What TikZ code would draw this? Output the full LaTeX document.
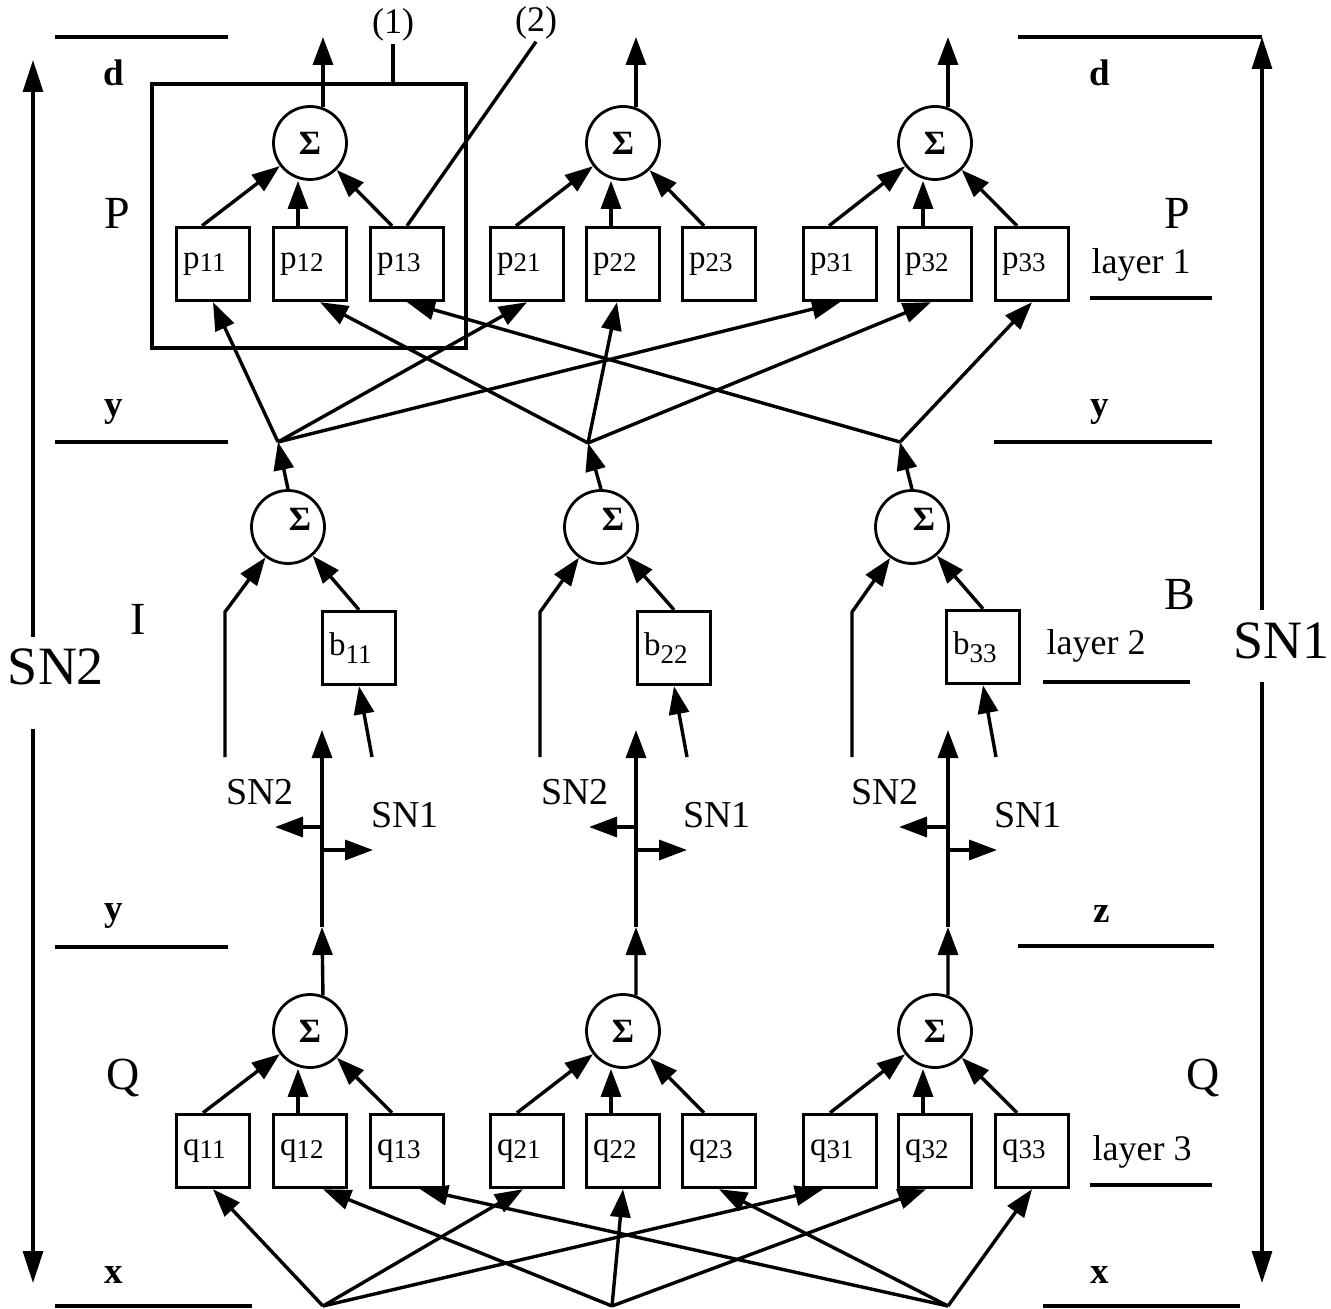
\documentclass[tikz,border=0pt]{standalone}
\usepackage{fontspec}
\setmainfont{Liberation Serif}
\usetikzlibrary{arrows.meta}

\newcommand{\pqidx}[2]{#1\lower1.5pt\hbox{\fontsize{13.5}{13.5}\selectfont #2}}
\newcommand{\bidx}[2]{#1\lower4pt\hbox{\fontsize{13.5}{13.5}\selectfont #2}}

\begin{document}
\begin{tikzpicture}[x=0.5pt,y=-0.5pt,
    conn/.style={line width=1.7pt},
    arr/.style={conn,-{Triangle[length=14pt,width=10pt]}},
    bigarr/.style={line width=1.6pt,-{Triangle[length=16pt,width=10pt]}},
    rule/.style={line width=1.8pt},
    cell/.style={draw,line width=1.7pt,minimum width=36.5pt,minimum height=36.5pt,
      inner sep=0pt,text width=30pt,align=left,font=\fontsize{16.5}{16.5}\selectfont},
    sumnode/.style={draw,circle,line width=1.4pt,minimum size=36.5pt,inner sep=0pt,
      font=\bfseries\fontsize{17}{17}\selectfont},
    sumsign/.style={font=\bfseries\fontsize{17}{17}\selectfont,inner sep=0pt},
    lettr/.style={font=\bfseries\fontsize{18.5}{18.5}\selectfont},
    layr/.style={font=\fontsize{18}{18}\selectfont},
    bigl/.style={font=\fontsize{23}{23}\selectfont},
    snl/.style={font=\fontsize{19}{19}\selectfont},
    sidel/.style={font=\fontsize{27}{27}\selectfont},
    tag/.style={font=\fontsize{18}{18}\selectfont,inner sep=1pt}]
    \useasboundingbox (0,0) rectangle (1331,1309);

    % side scales SN2 / SN1
    \coordinate (la) at (33,60);
    \coordinate (lb) at (33,637);
    \coordinate (lc) at (33,729);
    \coordinate (ld) at (33,1283);
    \draw[bigarr] (lb) -- (la);
    \draw[bigarr] (lc) -- (ld);
    \node[sidel] (sn2) at (56,667) {SN2};
    \coordinate (ra) at (1262,37);
    \coordinate (rb) at (1262,610);
    \coordinate (rc) at (1262,682);
    \coordinate (rd) at (1262,1283);
    \draw[bigarr] (rb) -- (ra);
    \draw[bigarr] (rc) -- (rd);
    \node[sidel] (sn1) at (1281,641) {SN1};

    % level rules
    \draw[rule] (55,37) -- (228,37);
    \draw[rule] (1018,37) -- (ra);
    \draw[rule] (55,442) -- (228,442);
    \draw[rule] (994,442) -- (1212,442);
    \draw[rule] (1090,298) -- (1212,298);
    \draw[rule] (1043,682) -- (1190,682);
    \draw[rule] (55,947) -- (228,947);
    \draw[rule] (1018,946) -- (1214,946);
    \draw[rule] (1090,1185) -- (1212,1185);
    \draw[rule] (55,1306) -- (252,1306);
    \draw[rule] (1043,1306) -- (1240,1306);

    % level letters
    \node[lettr] (dl) at (114,73) {d};
    \node[lettr] (dr) at (1100,73) {d};
    \node[bigl] (pl) at (117,213) {P};
    \node[bigl] (pr) at (1177,213) {P};
    \node[layr] (lay1) at (1141,265) {layer 1};
    \node[lettr] (yl) at (114,412) {y};
    \node[lettr] (yr) at (1100,412) {y};
    \node[bigl] (il) at (138,619) {I};
    \node[bigl] (br) at (1180,595) {B};
    \node[layr] (lay2) at (1096,646) {layer 2};
    \node[lettr] (yl2) at (114,916) {y};
    \node[lettr] (zr) at (1102,914) {z};
    \node[bigl] (ql) at (123,1078) {Q};
    \node[bigl] (qr) at (1203,1078) {Q};
    \node[layr] (lay3) at (1142,1152) {layer 3};
    \node[lettr] (xl) at (114,1275) {x};
    \node[lettr] (xr) at (1100,1275) {x};

    % layer 1
    \node[draw,line width=1.7pt,minimum width=157pt,minimum height=132pt] (grp) at (309,216) {};
    \node[tag] (one) at (393,25) {(1)};
    \node[tag] (two) at (536,23) {(2)};
    \node[sumnode] (t1) at (310,143) {Σ};
    \node[sumnode] (t2) at (623,143) {Σ};
    \node[sumnode] (t3) at (935,143) {Σ};
    \node[cell] (p11) at (213,264) {\pqidx{p}{11}};
    \node[cell] (p12) at (310,264) {\pqidx{p}{12}};
    \node[cell] (p13) at (407,264) {\pqidx{p}{13}};
    \node[cell] (p21) at (527,264) {\pqidx{p}{21}};
    \node[cell] (p22) at (623,264) {\pqidx{p}{22}};
    \node[cell] (p23) at (719,264) {\pqidx{p}{23}};
    \node[cell] (p31) at (840,264) {\pqidx{p}{31}};
    \node[cell] (p32) at (935,264) {\pqidx{p}{32}};
    \node[cell] (p33) at (1032,264) {\pqidx{p}{33}};
    \draw[conn] (grp.north -| one.south) -- (one.south);
    \draw[conn] (p13.north) -- (two.south);
    \draw[arr] (t1.70) -- (t1.70 |- ra);
    \draw[arr] (t2.70) -- (t2.70 |- ra);
    \draw[arr] (t3.70) -- (t3.70 |- ra);
    \draw[arr] ([xshift=-5.5pt]p11.north) -- (t1);
    \draw[arr] ([xshift=-6pt]p12.north) -- ([xshift=-6pt]t1.south);
    \draw[arr] ([xshift=-7.5pt]p13.north) -- (t1);
    \draw[arr] ([xshift=-5.5pt]p21.north) -- (t2);
    \draw[arr] ([xshift=-6pt]p22.north) -- ([xshift=-6pt]t2.south);
    \draw[arr] ([xshift=-7.5pt]p23.north) -- (t2);
    \draw[arr] ([xshift=-5.5pt]p31.north) -- (t3);
    \draw[arr] ([xshift=-6pt]p32.north) -- ([xshift=-6pt]t3.south);
    \draw[arr] ([xshift=-7.5pt]p33.north) -- (t3);

    % fan out to layer 1
    \coordinate (j1) at (278,442);
    \coordinate (j2) at (588,443);
    \coordinate (j3) at (900,442);
    \draw[arr] (j1) -- (p11.south);
    \draw[arr] (j1) -- (p21.south);
    \draw[arr] (j1) -- (p31.south);
    \draw[arr] (j2) -- ([xshift=5pt]p12.south);
    \draw[arr] (j2) -- ([xshift=-3pt]p22.south);
    \draw[arr] (j2) -- ([xshift=-2pt]p32.south);
    \draw[arr] (j3) -- (p13.south);
    \draw[arr] (j3) -- (p33.south);

    % layer 2
    \node[sumnode] (c1) at (288,527) {};
    \node[sumnode] (c2) at (601,527) {};
    \node[sumnode] (c3) at (912,527) {};
    \node[sumsign] (c1s) at (300,519) {Σ};
    \node[sumsign] (c2s) at (613,519) {Σ};
    \node[sumsign] (c3s) at (924,519) {Σ};
    \node[cell] (b1) at (359,648) {\bidx{b}{11}};
    \node[cell] (b2) at (674,648) {\bidx{b}{22}};
    \node[cell] (b3) at (983,647) {\bidx{b}{33}};
    \draw[arr] (c1.north) -- (j1);
    \draw[arr] (c2.north) -- (j2);
    \draw[arr] (c3.north) -- (j3);
    \draw[arr] (b1.north) -- (c1);
    \draw[arr] (b2.north) -- (c2);
    \draw[arr] (b3.north) -- (c3);
    \coordinate (k1) at (225,757);
    \coordinate (e1) at (225,612);
    \coordinate (k2) at (540,757);
    \coordinate (e2) at (540,612);
    \coordinate (k3) at (852,757);
    \coordinate (e3) at (852,612);
    \draw[arr] (k1) -- (e1) -- (c1);
    \draw[arr] (k2) -- (e2) -- (c2);
    \draw[arr] (k3) -- (e3) -- (c3);
    \coordinate (i1) at (372,757);
    \coordinate (i2) at (687,757);
    \coordinate (i3) at (996,757);
    \draw[arr] (i1) -- (b1.south);
    \draw[arr] (i2) -- (b2.south);
    \draw[arr] (i3) -- (b3.south);

    % switches SN2 / SN1
    \coordinate (m1) at (322,927);
    \coordinate (u1) at (322,730);
    \coordinate (w1) at (322,827);
    \coordinate (wl1) at (275,827);
    \coordinate (v1) at (322,850);
    \coordinate (vr1) at (373,850);
    \coordinate (m2) at (636,927);
    \coordinate (u2) at (636,730);
    \coordinate (w2) at (636,827);
    \coordinate (wl2) at (589,827);
    \coordinate (v2) at (636,850);
    \coordinate (vr2) at (687,850);
    \coordinate (m3) at (948,927);
    \coordinate (u3) at (948,730);
    \coordinate (w3) at (948,827);
    \coordinate (wl3) at (899,827);
    \coordinate (v3) at (948,850);
    \coordinate (vr3) at (997,850);
    \draw[arr] (m1) -- (u1);
    \draw[arr] (m2) -- (u2);
    \draw[arr] (m3) -- (u3);
    \draw[arr] (w1) -- (wl1);
    \draw[arr] (w2) -- (wl2);
    \draw[arr] (w3) -- (wl3);
    \draw[arr] (v1) -- (vr1);
    \draw[arr] (v2) -- (vr2);
    \draw[arr] (v3) -- (vr3);
    \node[snl] (sw2a) at (260,792) {SN2};
    \node[snl] (sw1a) at (405,815) {SN1};
    \node[snl] (sw2b) at (575,792) {SN2};
    \node[snl] (sw1b) at (717,815) {SN1};
    \node[snl] (sw2c) at (885,792) {SN2};
    \node[snl] (sw1c) at (1028,815) {SN1};

    % layer 3
    \node[sumnode] (s1) at (310,1031) {Σ};
    \node[sumnode] (s2) at (623,1031) {Σ};
    \node[sumnode] (s3) at (935,1031) {Σ};
    \draw[arr] (s1.70) -- (m1);
    \draw[arr] (s2.70) -- (m2);
    \draw[arr] (s3.70) -- (m3);
    \node[cell] (q11) at (213,1151) {\pqidx{q}{11}};
    \node[cell] (q12) at (310,1151) {\pqidx{q}{12}};
    \node[cell] (q13) at (407,1151) {\pqidx{q}{13}};
    \node[cell] (q21) at (527,1151) {\pqidx{q}{21}};
    \node[cell] (q22) at (623,1151) {\pqidx{q}{22}};
    \node[cell] (q23) at (719,1151) {\pqidx{q}{23}};
    \node[cell] (q31) at (840,1151) {\pqidx{q}{31}};
    \node[cell] (q32) at (935,1151) {\pqidx{q}{32}};
    \node[cell] (q33) at (1032,1151) {\pqidx{q}{33}};
    \draw[arr] ([xshift=-5pt]q11.north) -- (s1);
    \draw[arr] ([xshift=-6pt]q12.north) -- ([xshift=-6pt]s1.south);
    \draw[arr] ([xshift=-7.5pt]q13.north) -- (s1);
    \draw[arr] ([xshift=-5pt]q21.north) -- (s2);
    \draw[arr] ([xshift=-6pt]q22.north) -- ([xshift=-6pt]s2.south);
    \draw[arr] ([xshift=-7.5pt]q23.north) -- (s2);
    \draw[arr] ([xshift=-5pt]q31.north) -- (s3);
    \draw[arr] ([xshift=-6pt]q32.north) -- ([xshift=-6pt]s3.south);
    \draw[arr] ([xshift=-7.5pt]q33.north) -- (s3);

    % inputs x
    \coordinate (x1) at (323,1306);
    \coordinate (x2) at (612,1306);
    \coordinate (x3) at (948,1306);
    \draw[arr] (x1) -- (q11.south);
    \draw[arr] (x1) -- ([xshift=-2pt]q21.south);
    \draw[arr] (x1) -- ([xshift=-8.5pt]q31.south);
    \draw[arr] (x2) -- ([xshift=6.5pt]q12.south);
    \draw[arr] (x2) -- (q22.south);
    \draw[arr] (x2) -- ([xshift=-4.5pt]q32.south);
    \draw[arr] (x3) -- ([xshift=6.5pt]q13.south);
    \draw[arr] (x3) -- (q23.south);
    \draw[arr] (x3) -- (q33.south);
\end{tikzpicture}
\end{document}
